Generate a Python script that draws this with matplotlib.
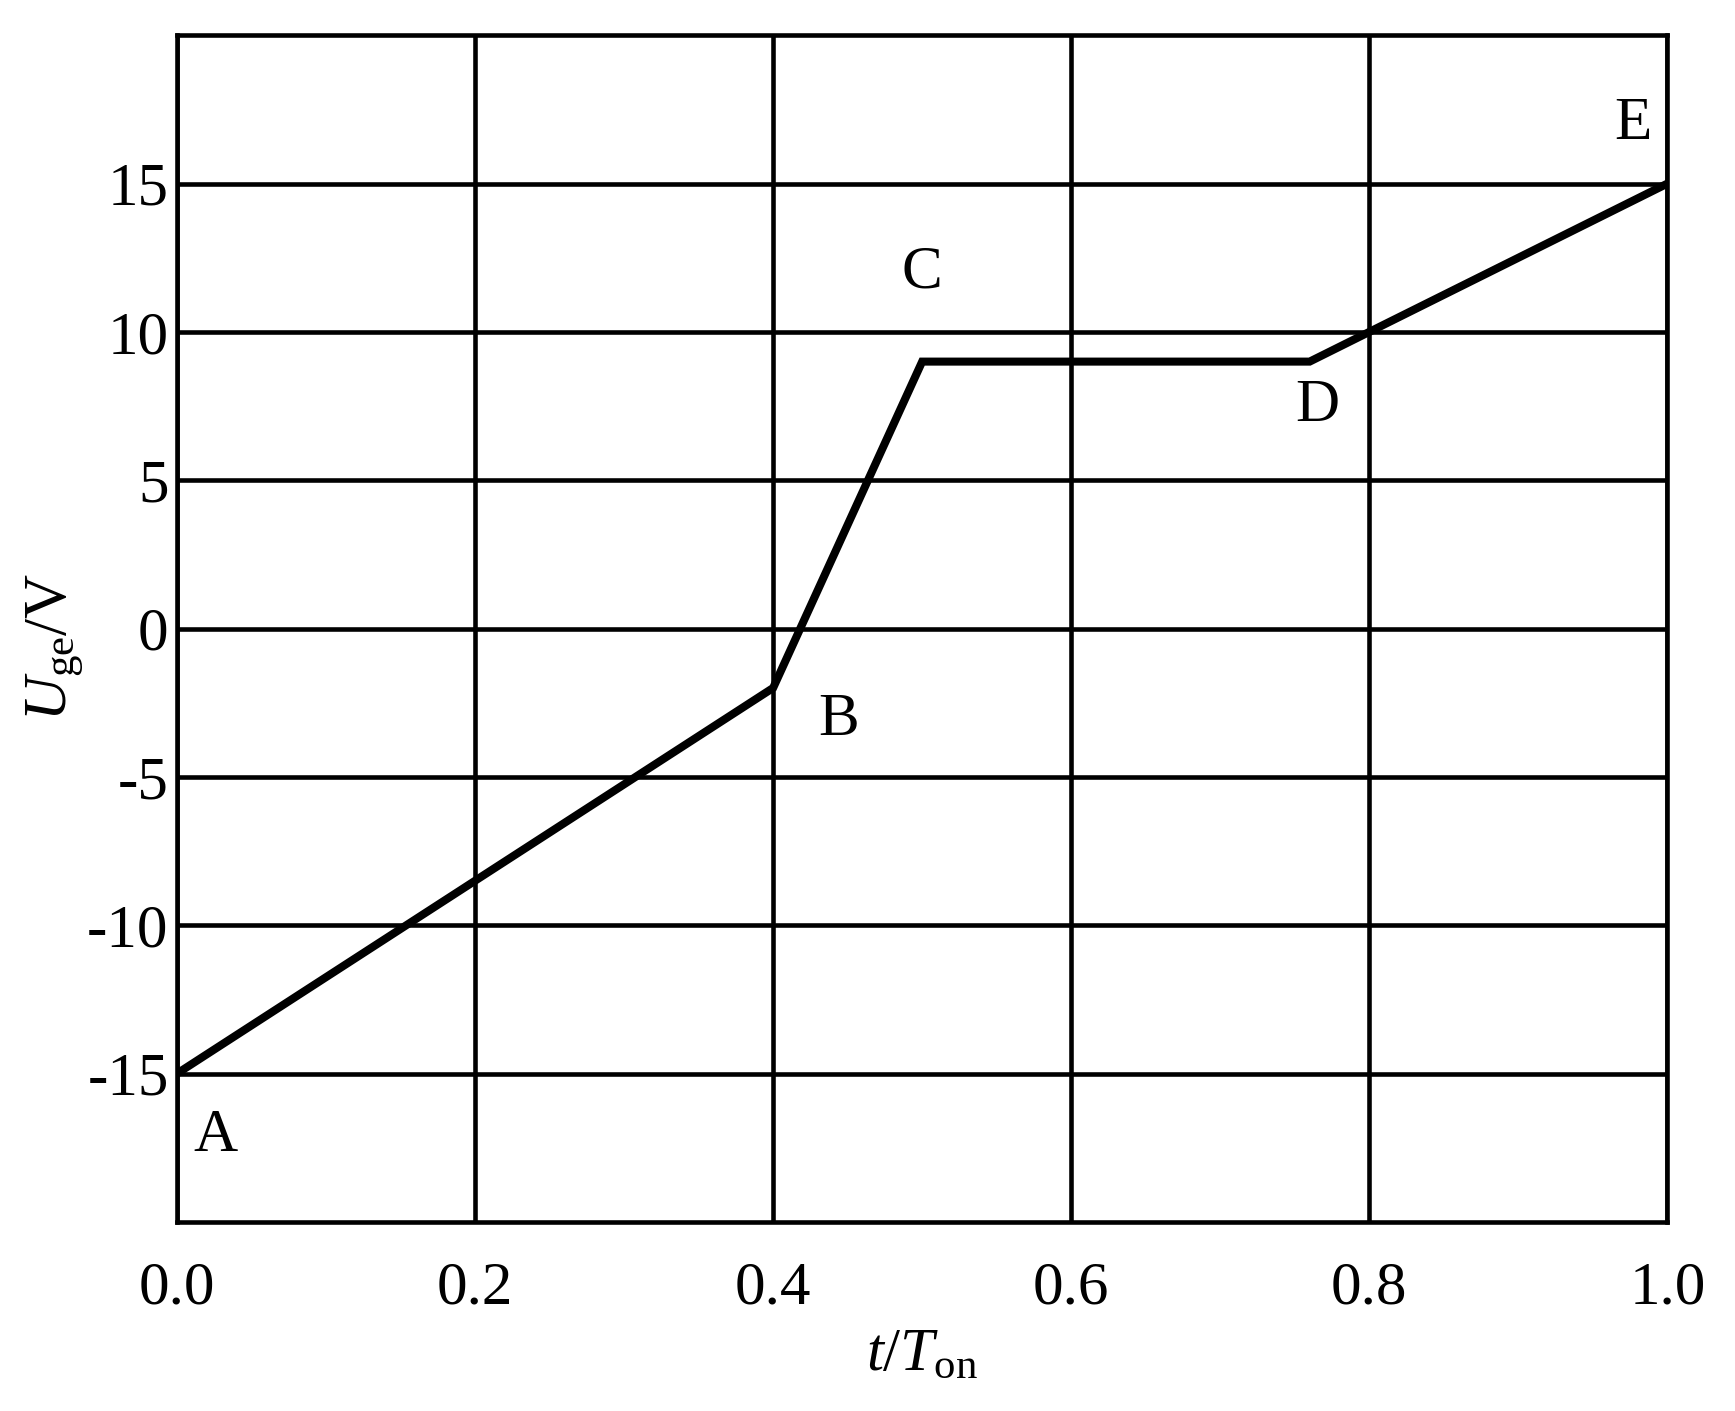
import matplotlib
matplotlib.use("Agg")
import matplotlib.pyplot as plt

# 折线各拐点 (t/Ton, Uge)
t_pts = [0.0, 0.4, 0.5, 0.76, 1.0]
u_pts = [-15, -2, 9, 9, 15]
pt_names = ["A", "B", "C", "D", "E"]
# 字母标注位置
name_x = [0.026, 0.444, 0.50, 0.765, 0.977]
name_y = [-17.1, -3.1, 12.0, 7.5, 17.0]

x_ticks = [0.0, 0.2, 0.4, 0.6, 0.8, 1.0]
x_labels = ["0.0", "0.2", "0.4", "0.6", "0.8", "1.0"]
y_ticks = [-15, -10, -5, 0, 5, 10, 15]
y_labels = ["-15", "-10", "-5", "0", "5", "10", "15"]

plt.rcParams['font.family'] = ['Liberation Serif', 'DejaVu Serif']
plt.rcParams['mathtext.fontset'] = 'custom'
plt.rcParams['mathtext.rm'] = 'Liberation Serif'
plt.rcParams['mathtext.it'] = 'Liberation Serif:italic'

fs = 44
lw_grid = 3.3

fig = plt.figure(figsize=(17.35, 14.11), dpi=100)
ax = fig.add_axes([0.102, 0.134, 0.859, 0.841])

ax.plot(t_pts, u_pts, color='black', lw=5.8, solid_joinstyle='miter', zorder=3)

for nm, xx, yy in zip(pt_names, name_x, name_y):
    ax.text(xx, yy, nm, fontsize=fs, ha='center', va='center')

ax.set_xlim(0, 1)
ax.set_ylim(-20, 20)
ax.set_xticks(x_ticks)
ax.set_xticklabels(x_labels)
ax.set_yticks(y_ticks)
ax.set_yticklabels(y_labels)
ax.tick_params(length=0, labelsize=fs)
ax.tick_params(axis='x', pad=28)
ax.tick_params(axis='y', pad=6)
ax.grid(True, color='black', lw=lw_grid)
for sp in ax.spines.values():
    sp.set_linewidth(lw_grid)

ax.set_xlabel(r"$t$/$T_{\mathrm{on}}$", fontsize=fs, labelpad=8)
ax.set_ylabel(r"$U_{\mathrm{ge}}$/V", fontsize=fs)
ax.yaxis.set_label_coords(-0.061, 0.485)

fig.savefig("out.png", dpi=100)
